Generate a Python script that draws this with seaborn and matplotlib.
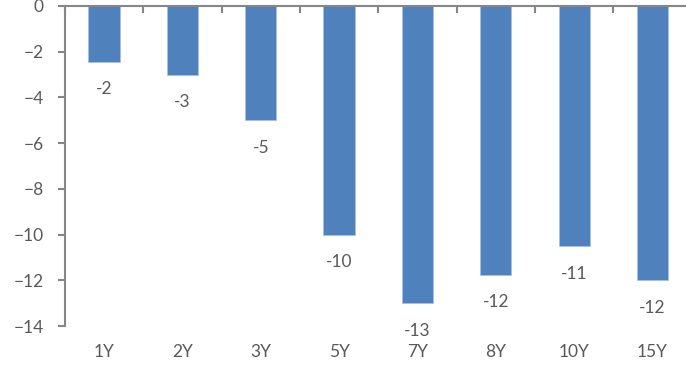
import matplotlib
matplotlib.use("Agg")
import numpy as np
import seaborn as sns
from matplotlib import pyplot as plt
from matplotlib.ticker import MultipleLocator

# data
tenors = ["1Y", "2Y", "3Y", "5Y", "7Y", "8Y", "10Y", "15Y"]
values = [-2.45, -3.0, -5.0, -10.0, -13.0, -11.75, -10.52, -12.0]

sns.set_style("white")
plt.rcParams['font.family'] = ['Lato', 'DejaVu Sans']
plt.rcParams['font.size'] = 12.5

gray = "#868686"
text_gray = "#595959"

fig = plt.figure(figsize=(6.86, 3.68), dpi=100)
ax = fig.add_axes([0.0944, 0.1141, 0.914, 0.8696])

sns.barplot(x=tenors, y=values, color="#4F81BD", width=0.4, saturation=1,
            edgecolor="#A9C1E0", linewidth=0.6, ax=ax)

ax.set_ylim(-14, 0)
ax.set_xlim(-0.5, len(tenors) - 0.5)
ax.yaxis.set_major_locator(MultipleLocator(2))

# zero line on top, axis on the left
ax.spines['bottom'].set_visible(False)
ax.spines['right'].set_visible(False)
ax.spines['top'].set_color(gray)
ax.spines['left'].set_color(gray)
ax.spines['top'].set_linewidth(1.5)
ax.spines['left'].set_linewidth(1.5)

# category boundary ticks hanging down from the zero line
ax.set_xticks(np.arange(len(tenors) + 1) - 0.5, minor=True)
ax.tick_params(axis='x', which='minor', top=True, bottom=False, direction='in',
               length=5, width=1.5, color=gray)
ax.tick_params(axis='x', which='major', bottom=True, length=0, pad=13,
               labelsize=12.5, labelcolor=text_gray)
ax.tick_params(axis='y', which='major', left=True, direction='out', length=5,
               width=1.5, color=gray, pad=10, labelsize=12.5, labelcolor=text_gray)
ax.set_xlabel("")
ax.set_ylabel("")

# data labels below each bar
ax.bar_label(ax.containers[0], labels=[f"{v:.0f}" for v in values],
             padding=14, fontsize=12.5, color=text_gray)

fig.savefig("out.png", dpi=100)
